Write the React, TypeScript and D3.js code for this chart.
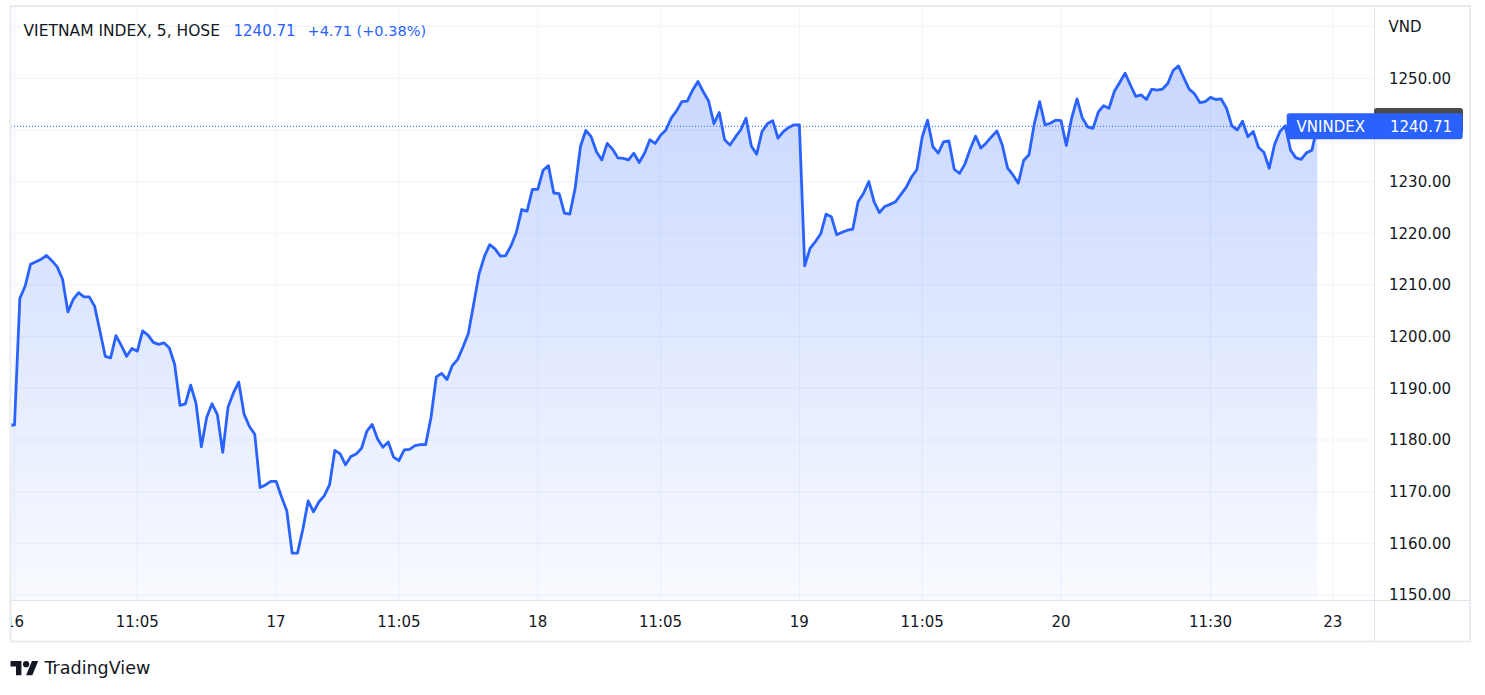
import React from "react";
import * as d3 from "d3";

// ---- data (VN-Index, 5-minute bars, 49 bars per session) ----
const prevClose = 1182.9;
const day16 = [1182.9, 1207.4, 1209.8, 1214.0, 1214.5, 1215.0, 1215.7, 1214.7, 1213.5, 1211.1, 1204.8, 1207.2, 1208.5, 1207.7, 1207.7, 1205.9, 1201.1, 1196.2, 1195.9, 1200.2, 1198.3, 1196.2, 1197.7, 1197.2, 1201.1, 1200.3, 1198.9, 1198.5, 1198.8, 1197.8, 1194.6, 1186.7, 1187.0, 1190.6, 1187.1, 1178.7, 1184.4, 1187.0, 1184.9, 1177.6, 1186.4, 1189.1, 1191.2, 1185.0, 1182.6, 1181.1, 1170.8, 1171.3, 1172.0];
const day17 = [1172.0, 1169.0, 1166.3, 1158.1, 1158.1, 1162.7, 1168.2, 1166.1, 1168.0, 1169.2, 1171.3, 1178.0, 1177.3, 1175.2, 1176.8, 1177.3, 1178.4, 1181.7, 1183.0, 1180.2, 1178.6, 1179.6, 1176.7, 1176.0, 1178.1, 1178.2, 1178.9, 1179.1, 1179.1, 1184.3, 1192.2, 1192.9, 1191.7, 1194.4, 1195.6, 1198.0, 1200.6, 1206.3, 1212.1, 1215.5, 1217.8, 1217.0, 1215.6, 1215.7, 1217.6, 1220.2, 1224.6, 1224.3, 1228.5];
const day18 = [1228.5, 1232.2, 1233.1, 1227.8, 1227.7, 1223.9, 1223.7, 1228.7, 1236.8, 1239.9, 1238.7, 1235.8, 1234.2, 1237.4, 1236.3, 1234.6, 1234.5, 1234.2, 1235.5, 1233.7, 1235.5, 1238.1, 1237.4, 1239.0, 1240.0, 1242.3, 1243.7, 1245.5, 1245.6, 1247.7, 1249.4, 1247.4, 1245.6, 1241.2, 1243.4, 1238.1, 1237.1, 1238.6, 1240.0, 1242.3, 1236.9, 1235.3, 1239.7, 1241.2, 1241.8, 1238.4, 1239.7, 1240.5, 1241.0];
const day19 = [1241.0, 1213.7, 1217.1, 1218.4, 1219.9, 1223.7, 1223.2, 1219.7, 1220.2, 1220.6, 1220.8, 1226.1, 1227.7, 1230.0, 1226.1, 1224.0, 1225.2, 1225.6, 1226.1, 1227.5, 1228.9, 1230.9, 1232.3, 1238.6, 1241.9, 1236.8, 1235.5, 1237.7, 1237.9, 1232.4, 1231.6, 1233.4, 1236.3, 1238.8, 1236.5, 1237.5, 1238.7, 1239.8, 1237.1, 1232.6, 1231.3, 1229.7, 1234.1, 1235.2, 1241.2, 1245.5, 1241.0, 1241.3, 1241.9];
const day20 = [1241.8, 1237.0, 1242.3, 1246.0, 1242.3, 1240.6, 1240.3, 1243.5, 1244.7, 1244.2, 1247.5, 1249.2, 1251.0, 1248.7, 1246.5, 1246.8, 1245.9, 1247.9, 1247.7, 1247.9, 1249.0, 1251.5, 1252.4, 1250.1, 1247.9, 1247.0, 1245.3, 1245.5, 1246.3, 1245.9, 1246.0, 1244.2, 1240.8, 1240.0, 1241.7, 1238.7, 1239.7, 1236.6, 1235.7, 1232.6, 1237.2, 1239.7, 1240.8, 1236.1, 1234.6, 1234.3, 1235.6, 1236.1, 1240.71];
const sessions = [day16, day17, day18, day19, day20];
const barsPerSession = 49;

const timeTickLabels = ["16", "11:05", "17", "11:05", "18", "11:05", "19", "11:05", "20", "11:30", "23"];
const timeTickBars = [0, 23, 49, 72, 98, 121, 147, 170, 196, 224, 246.9];
// 1240.00 is hidden under the last-price label in the reference
const priceTicks = [1150, 1160, 1170, 1180, 1190, 1200, 1210, 1220, 1230, 1250];
const priceGrid = [1150, 1160, 1170, 1180, 1190, 1200, 1210, 1220, 1230, 1240, 1250, 1260];

const symbolTitle = "VIETNAM INDEX, 5, HOSE";
const symbolShort = "VNINDEX";
const currency = "VND";
const lastPrice = 1240.71;
const change = 4.71;
const changePct = 0.38;

const FONT = "'DejaVu Sans', Verdana, sans-serif";
const BLUE = "#2962FF";
const TEXT = "#131722";

export default function App() {
  const W = 1485, H = 695;
  const plot = { x0: 11, x1: 1374, y0: 7, y1: 600 };

  const x = d3.scaleLinear().domain([0, 196]).range([14.5, 1061]);
  const y = d3.scaleLinear().domain([1150, 1250]).range([595, 78.3]);

  const pts: { i: number; v: number }[] = [{ i: -1, v: prevClose }];
  sessions.forEach((arr, d) => arr.forEach((v, k) => pts.push({ i: d * barsPerSession + k, v })));

  const line = d3.line<{ i: number; v: number }>().x((p) => x(p.i)).y((p) => y(p.v));
  const area = d3.area<{ i: number; v: number }>().x((p) => x(p.i)).y0(plot.y1).y1((p) => y(p.v));

  const yLast = y(lastPrice);

  return (
    <svg width={W} height={H} style={{ position: "absolute", left: 0, top: 0, display: "block", background: "#fff" }} fontFamily={FONT}>
      <defs>
        <clipPath id="plotClip">
          <rect x={plot.x0} y={plot.y0} width={plot.x1 - plot.x0} height={plot.y1 - plot.y0} />
        </clipPath>
        <clipPath id="timeClip">
          <rect x={plot.x0} y={plot.y1} width={plot.x1 - plot.x0} height={41} />
        </clipPath>
        <linearGradient id="areaGrad" gradientUnits="userSpaceOnUse" x1="0" y1={plot.y0} x2="0" y2={plot.y1}>
          <stop offset="0" stopColor={BLUE} stopOpacity={0.28} />
          <stop offset="1" stopColor={BLUE} stopOpacity={0.03} />
        </linearGradient>
      </defs>
      <rect x={0} y={0} width={W} height={H} fill="#fff" />

      {/* grid */}
      <g clipPath="url(#plotClip)">
        {priceGrid.map((p) => (
          <line key={"h" + p} x1={plot.x0} x2={plot.x1} y1={y(p)} y2={y(p)} stroke="#f0f3fa" strokeWidth={1} />
        ))}
        {timeTickBars.map((b, k) => (
          <line key={"v" + k} x1={x(b)} x2={x(b)} y1={plot.y0} y2={plot.y1} stroke="#f0f3fa" strokeWidth={1} />
        ))}
      </g>

      {/* area + line */}
      <g clipPath="url(#plotClip)">
        <path d={area(pts) || ""} fill="url(#areaGrad)" />
        <path d={line(pts) || ""} fill="none" stroke={BLUE} strokeWidth={2.8} strokeLinejoin="round" strokeLinecap="round" />
        <line x1={plot.x0} x2={plot.x1} y1={yLast} y2={yLast} stroke={BLUE} strokeWidth={1} strokeDasharray="1 2" />
      </g>

      {/* frame */}
      <rect x={10.5} y={6} width={1459.5} height={635.5} fill="none" stroke="#e9ebf0" strokeWidth={2} />
      <line x1={plot.x1 + 0.5} x2={plot.x1 + 0.5} y1={7} y2={641} stroke="#e0e3eb" />
      <line x1={11} x2={1470} y1={plot.y1 + 0.5} y2={plot.y1 + 0.5} stroke="#e0e3eb" />

      {/* header */}
      <text x={23.5} y={36} fontSize={15.5} fill={TEXT}>{symbolTitle}</text>
      <text x={233.5} y={36} fontSize={15} fill={BLUE}>{lastPrice.toFixed(2)}</text>
      <text x={307.5} y={36} fontSize={14.5} fill={BLUE}>{`+${change.toFixed(2)} (+${changePct.toFixed(2)}%)`}</text>

      {/* price axis */}
      <text x={1388.5} y={32} fontSize={15} fill={TEXT}>{currency}</text>
      {priceTicks.map((p) => (
        <text key={"p" + p} x={1389} y={y(p) + 5.4} fontSize={15} fill={TEXT}>{p.toFixed(2)}</text>
      ))}

      {/* time axis */}
      <g clipPath="url(#timeClip)">
        {timeTickLabels.map((t, k) => (
          <text key={"t" + k} x={x(timeTickBars[k])} y={626.5} fontSize={15} fill={TEXT} textAnchor="middle">{t}</text>
        ))}
      </g>

      {/* last price label */}
      <rect x={1374} y={108} width={89} height={26} rx={3} fill="#4a4a4a" />
      <rect x={1286.7} y={113.3} width={176} height={26} rx={3} fill={BLUE} />
      <text x={1296.5} y={yLast + 5.4} fontSize={15} fill="#fff">{symbolShort}</text>
      <text x={1452} y={yLast + 5.4} fontSize={15} fill="#fff" textAnchor="end">{lastPrice.toFixed(2)}</text>

      {/* TradingView logo */}
      <g transform="translate(10.5,658) scale(0.78)" fill={TEXT}>
        <path d="M14 22H7V11H0V4h14v18zM28 22h-8l7.5-18h8L28 22z" />
        <circle cx={20} cy={8} r={4} />
      </g>
      <text x={44.5} y={674} fontSize={17.5} fill={TEXT}>TradingView</text>
    </svg>
  );
}
